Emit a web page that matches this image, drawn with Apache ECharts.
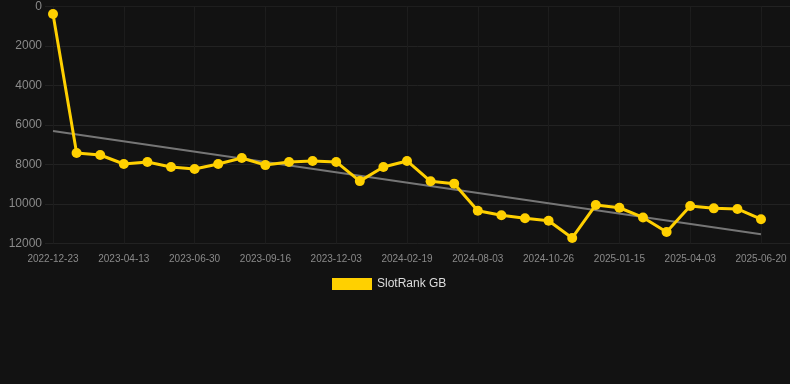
<!DOCTYPE html>
<html>
<head>
<meta charset="utf-8">
<script src="https://cdn.jsdelivr.net/npm/echarts@6/dist/echarts.min.js"></script>
<style>
html,body{margin:0;padding:0;background:#121212;}
#c{width:790px;height:384px;}
</style>
</head>
<body>
<div id="c"></div>
<script>
var dates = ['2022-12-23','2023-01-29','2023-03-07','2023-04-13','2023-05-09','2023-06-04','2023-06-30','2023-07-26','2023-08-21','2023-09-16','2023-10-12','2023-11-07','2023-12-03','2023-12-29','2024-01-24','2024-02-19','2024-04-14','2024-06-08','2024-08-03','2024-08-30','2024-09-29','2024-10-26','2024-11-22','2024-12-19','2025-01-15','2025-02-10','2025-03-08','2025-04-03','2025-04-29','2025-05-25','2025-06-20'];
var rankGB = [380,7420,7520,7975,7870,8130,8230,7975,7670,8030,7870,7820,7870,8840,8130,7820,8850,8970,10340,10570,10720,10850,11720,10050,10190,10680,11420,10100,10220,10250,10770];
var trendEnds = [6300, 11530];
var yTicks = [0, 2000, 4000, 6000, 8000, 10000, 12000];
var seriesName = 'SlotRank GB';

var trendData = dates.map(function(d, i){
  if (i === 0) return trendEnds[0];
  if (i === dates.length - 1) return trendEnds[1];
  return null;
});

var chart = echarts.init(document.getElementById('c'), null, {renderer:'canvas'});
chart.setOption({
  backgroundColor: '#121212',
  animation: false,
  grid: [
    {left: 45, right: 0, top: 6.5, height: 237, containLabel: false},
    {left: 53, right: 29, top: 6.5, height: 237, containLabel: false}
  ],
  legend: {
    top: 273, left: 327,
    icon: 'rect', itemWidth: 40, itemHeight: 12, itemGap: 10,
    textStyle: {color: '#dddddd', fontSize: 12, fontFamily: 'Liberation Sans, Arial, sans-serif'},
    data: [seriesName]
  },
  xAxis: [
    {gridIndex: 0, type: 'value', min: 0, max: 1, show: false},
    {gridIndex: 1, type: 'category', data: dates, boundaryGap: false,
     axisLine: {show: true, lineStyle: {color: '#1e1e1e'}},
     axisTick: {show: true, interval: 2, length: 5, lineStyle: {color: '#1e1e1e'}},
     axisLabel: {interval: 2, color: '#8a8a8a', fontSize: 10, margin: 11, fontFamily: 'Liberation Sans, Arial, sans-serif'},
     splitLine: {show: true, interval: 2, lineStyle: {color: '#1c1c1c', width: 1}}
    }
  ],
  yAxis: [
    {gridIndex: 0, type: 'value', inverse: true, min: yTicks[0], max: yTicks[yTicks.length-1], interval: 2000,
     axisLine: {show: false}, axisTick: {show: false},
     axisLabel: {color: '#8a8a8a', fontSize: 12, margin: 3, fontFamily: 'Liberation Sans, Arial, sans-serif',
       formatter: function(v){ return String(v); }},
     splitLine: {show: true, lineStyle: {color: '#222222', width: 1}}
    },
    {gridIndex: 1, type: 'value', inverse: true, min: yTicks[0], max: yTicks[yTicks.length-1], interval: 2000,
     show: false, splitLine: {show: false}}
  ],
  series: [
    {name: 'trend', type: 'line', xAxisIndex: 1, yAxisIndex: 1, data: trendData, connectNulls: true,
     symbol: 'none', lineStyle: {color: '#767676', width: 2}, silent: true, z: 1},
    {name: seriesName, type: 'line', xAxisIndex: 1, yAxisIndex: 1, data: rankGB,
     symbol: 'circle', symbolSize: 10, showSymbol: true,
     itemStyle: {color: '#FFD000'}, lineStyle: {color: '#FFD000', width: 3}, z: 3}
  ]
});
</script>
</body>
</html>
